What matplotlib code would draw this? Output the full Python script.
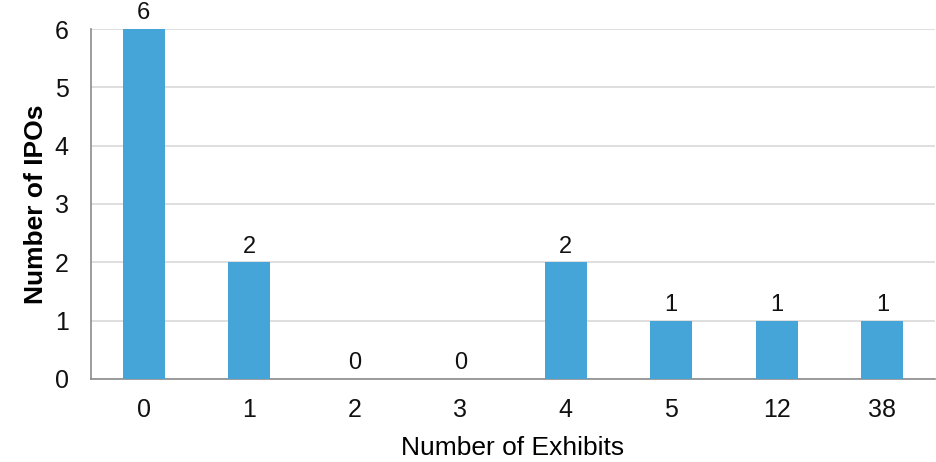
import numpy as np
import matplotlib.pyplot as plt

plt.rcParams['font.family'] = ['Liberation Sans', 'DejaVu Sans']

# data
exhibits = ["0", "1", "2", "3", "4", "5", "12", "38"]
ipos = [6, 2, 0, 0, 2, 1, 1, 1]

fig = plt.figure(figsize=(9.37, 4.62), dpi=100)
ax = fig.add_axes([0.097, 0.18, 0.901, 0.757])

x = np.arange(len(exhibits))
bars = ax.bar(x, ipos, width=0.4, color="#45a5d8", zorder=3)

for xi, v in zip(x, ipos):
    ax.text(xi, v + 0.08, str(v), ha="center", va="bottom", fontsize=17, color="#111111")

ax.set_xlim(-0.5, len(exhibits) - 0.5)
ax.set_ylim(0, 6)
ax.set_yticks(range(7))
ax.set_xticks(x)
ax.set_xticklabels(exhibits)
ax.tick_params(axis="both", length=0, labelsize=18, colors="#111111")
ax.tick_params(axis="x", pad=14)
ax.tick_params(axis="y", pad=16)
ax.grid(axis="y", color="#d9d9d9", linewidth=1.2, zorder=0)

for s in ["top", "right"]:
    ax.spines[s].set_visible(False)
for s in ["left", "bottom"]:
    ax.spines[s].set_color("#8c8c8c")
    ax.spines[s].set_linewidth(1.2)

ax.set_xlabel("Number of Exhibits", fontsize=19, labelpad=10)
ax.set_ylabel("Number of IPOs", fontsize=19, fontweight="bold", labelpad=5)

fig.savefig("out.png", dpi=100)
